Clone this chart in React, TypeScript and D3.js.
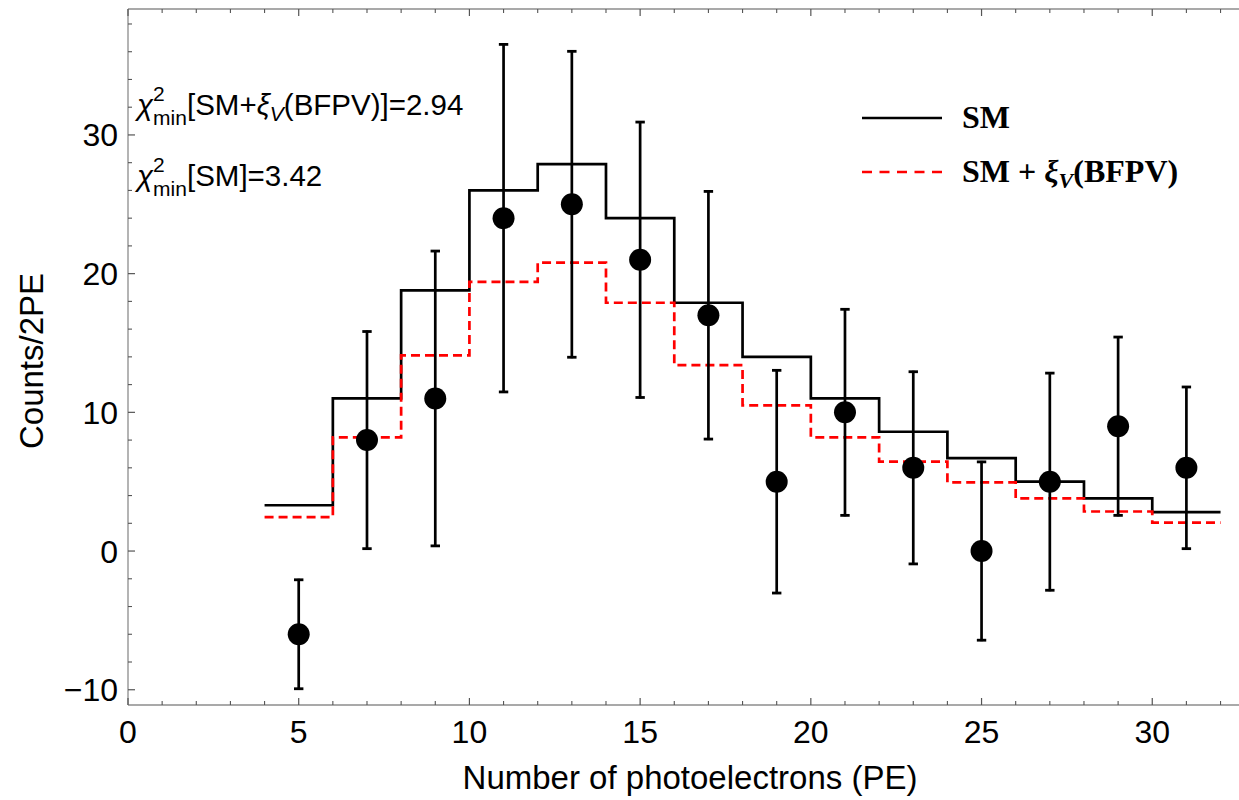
import React from "react";
import * as d3 from "d3";

// ---- data ----
const binEdges = [4, 6, 8, 10, 12, 14, 16, 18, 20, 22, 24, 26, 28, 30, 32];
const smCounts = [3.3, 11.0, 18.8, 26.0, 27.9, 24.0, 17.9, 14.0, 11.0, 8.6, 6.7, 5.0, 3.8, 2.8];
const bfpvCounts = [2.45, 8.2, 14.1, 19.4, 20.8, 17.9, 13.4, 10.5, 8.2, 6.45, 4.95, 3.8, 2.85, 2.05];
const peBins = [5, 7, 9, 11, 13, 15, 17, 19, 21, 23, 25, 27, 29, 31];
const observed = [-6, 8, 11, 24, 25, 21, 17, 5, 10, 6, 0, 5, 9, 6];
const errors = [4, 7.9, 10.7, 12.6, 11.1, 10, 9, 8.1, 7.5, 7, 6.5, 7.9, 6.5, 5.9];
const xMajorTicks = [0, 5, 10, 15, 20, 25, 30];
const yMajorTicks = [-10, 0, 10, 20, 30];

const W = 1239;
const H = 800;
const SANS = "'Liberation Sans', Arial, sans-serif";
const SERIF = "'Liberation Serif', 'Times New Roman', serif";

export default function App() {
  const x = d3.scaleLinear().domain([0, 32.57]).range([128, 1240]);
  const y = d3.scaleLinear().domain([-11.1, 39.08]).range([705, 9]);
  const [xL, xR] = x.range();
  const [yB, yT] = y.range();

  const stepPts = (vals: number[]) => {
    const pts: [number, number][] = vals.map((v, i) => [binEdges[i], v]);
    pts.push([binEdges[binEdges.length - 1], vals[vals.length - 1]]);
    return pts;
  };
  const line = d3
    .line<[number, number]>()
    .x((d) => x(d[0]))
    .y((d) => y(d[1]))
    .curve(d3.curveStepAfter);

  const xMinor = d3.range(0, 33, 1).filter((v) => v % 5 !== 0);
  const yMinor = d3.range(-10, 40, 2).filter((v) => v % 10 !== 0);
  const axisColor = "#8c8c8c";
  const tickFs = 32;
  const titleFs = 33;
  const annFs = 29.5;
  const subFs = 21;
  const legFs = 32;

  return (
    <svg width={W} height={H} style={{ position: "absolute", left: 0, top: 0, background: "#fff" }}>
      <rect x={0} y={0} width={W} height={H} fill="#fff" />
      {/* frame */}
      <line x1={xL} x2={xL} y1={yB} y2={yT} stroke={axisColor} strokeWidth={1.3} />
      <line x1={xL} x2={xR} y1={yB} y2={yB} stroke={axisColor} strokeWidth={1.3} />
      <line x1={xL} x2={xR} y1={yT} y2={yT} stroke={axisColor} strokeWidth={1.3} />
      {/* x ticks */}
      {xMajorTicks.map((t) => (
        <g key={"xm" + t}>
          <line x1={x(t)} x2={x(t)} y1={yB} y2={yB - 7} stroke="#555" strokeWidth={1.2} />
          <line x1={x(t)} x2={x(t)} y1={yT} y2={yT + 7} stroke="#555" strokeWidth={1.2} />
          <text x={x(t)} y={743} textAnchor="middle" fontFamily={SANS} fontSize={tickFs} fill="#000">
            {t}
          </text>
        </g>
      ))}
      {xMinor.map((t) => (
        <g key={"xn" + t}>
          <line x1={x(t)} x2={x(t)} y1={yB} y2={yB - 4} stroke="#555" strokeWidth={1.1} />
          <line x1={x(t)} x2={x(t)} y1={yT} y2={yT + 4} stroke="#555" strokeWidth={1.1} />
        </g>
      ))}
      {/* y ticks */}
      {yMajorTicks.map((t) => (
        <g key={"ym" + t}>
          <line x1={xL} x2={xL + 7} y1={y(t)} y2={y(t)} stroke="#555" strokeWidth={1.2} />
          <text
            x={118}
            y={y(t) + tickFs * 0.36}
            textAnchor="end"
            fontFamily={SANS}
            fontSize={tickFs}
            fill="#000"
          >
            {t < 0 ? "\u2212" + Math.abs(t) : t}
          </text>
        </g>
      ))}
      {yMinor.map((t) => (
        <line key={"yn" + t} x1={xL} x2={xL + 4} y1={y(t)} y2={y(t)} stroke="#555" strokeWidth={1.1} />
      ))}
      {/* axis titles */}
      <text x={690} y={789} textAnchor="middle" fontFamily={SANS} fontSize={titleFs} fill="#000">
        Number of photoelectrons (PE)
      </text>
      <text
        transform={`translate(43,${(yB + yT) / 2 + 4}) rotate(-90)`}
        textAnchor="middle"
        fontFamily={SANS}
        fontSize={titleFs}
        fill="#000"
      >
        Counts/2PE
      </text>
      {/* histograms */}
      <path d={line(stepPts(smCounts)) || ""} fill="none" stroke="#000" strokeWidth={2.7} />
      <path
        d={line(stepPts(bfpvCounts)) || ""}
        fill="none"
        stroke="#ff0000"
        strokeWidth={2.7}
        strokeDasharray="9,5"
      />
      {/* data points with error bars */}
      {peBins.map((b, i) => {
        const cx = x(b);
        const lo = y(observed[i] - errors[i]);
        const hi = y(observed[i] + errors[i]);
        return (
          <g key={"p" + b}>
            <line x1={cx} x2={cx} y1={lo} y2={hi} stroke="#000" strokeWidth={2.7} />
            <line x1={cx - 4.7} x2={cx + 4.7} y1={lo - 1} y2={lo - 1} stroke="#000" strokeWidth={2.8} />
            <line x1={cx - 4.7} x2={cx + 4.7} y1={hi + 1} y2={hi + 1} stroke="#000" strokeWidth={2.8} />
            <circle cx={cx} cy={y(observed[i])} r={11} fill="#000" />
          </g>
        );
      })}
      {/* annotations */}
      <text x={137} y={115} fontFamily={SANS} fontSize={annFs} fill="#000">
        <tspan fontStyle="italic">χ</tspan>
        <tspan fontSize={subFs} dy={-14}>2</tspan>
        <tspan fontSize={subFs} dx={-subFs * 0.556} dy={24}>min</tspan>
        <tspan dy={-10}>[SM+</tspan>
        <tspan fontStyle="italic">ξ</tspan>
        <tspan fontStyle="italic" fontSize={subFs} dy={6}>V</tspan>
        <tspan dy={-6}>(BFPV)]=2.94</tspan>
      </text>
      <text x={137} y={186} fontFamily={SANS} fontSize={annFs} fill="#000">
        <tspan fontStyle="italic">χ</tspan>
        <tspan fontSize={subFs} dy={-14}>2</tspan>
        <tspan fontSize={subFs} dx={-subFs * 0.556} dy={24}>min</tspan>
        <tspan dy={-10}>[SM]=3.42</tspan>
      </text>
      {/* legend */}
      <line x1={862} x2={942} y1={118} y2={118} stroke="#000" strokeWidth={2.7} />
      <text x={962} y={128} fontFamily={SERIF} fontWeight="bold" fontSize={legFs} fill="#000">
        SM
      </text>
      <line x1={862} x2={942} y1={172} y2={172} stroke="#ff0000" strokeWidth={2.7} strokeDasharray="10,7.5" />
      <text x={962} y={182} fontFamily={SERIF} fontWeight="bold" fontSize={legFs} fill="#000">
        <tspan>SM + </tspan>
        <tspan fontStyle="italic">ξ</tspan>
        <tspan fontStyle="italic" fontSize={22} dy={6}>V</tspan>
        <tspan dy={-6}>(BFPV)</tspan>
      </text>
    </svg>
  );
}
